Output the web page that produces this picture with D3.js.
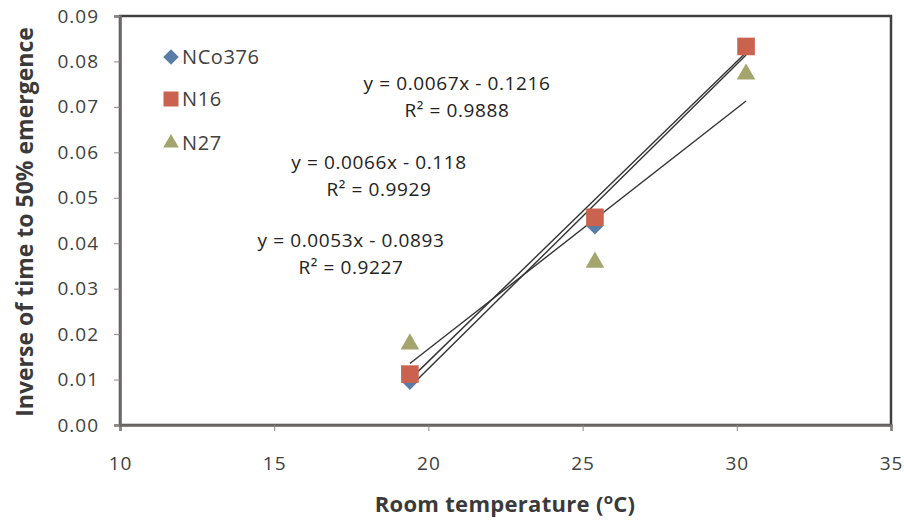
<!DOCTYPE html>
<meta charset="utf-8">
<style>
body { margin:0; background:#fff; }
text { font-family: "Open Sans", "Noto Sans", sans-serif; fill:#404040; }
.title { font-weight:bold; font-size:22px; fill:#3a3a3a; }
.eq { font-size:19px; letter-spacing:0.6px; fill:#222; }
</style>
<body>
<svg width="904" height="520" id="vis"></svg>
<script src="https://d3js.org/d3.v7.min.js"></script>
<script>
var temps = [19.4, 25.4, 30.3];
var nco376 = [0.0095, 0.0437, 0.0833];
var n16 = [0.0112, 0.0457, 0.0833];
var n27 = [0.0178, 0.0358, 0.0772];
var seriesNames = ["NCo376", "N16", "N27"];
var slopes = [0.0067, 0.0066, 0.0053];
var intercepts = [-0.1216, -0.118, -0.0893];
var eqLabels = ["y = 0.0067x - 0.1216", "y = 0.0066x - 0.118", "y = 0.0053x - 0.0893"];
var r2Labels = ["R\u00b2 = 0.9888", "R\u00b2 = 0.9929", "R\u00b2 = 0.9227"];
var xTicks = [10, 15, 20, 25, 30, 35];
var yTicks = [0, 0.01, 0.02, 0.03, 0.04, 0.05, 0.06, 0.07, 0.08, 0.09];

var colours = ["#5a7da8", "#c9634f", "#a3a56d"];
var shapes = [d3.symbolSquare, d3.symbolSquare, d3.symbolTriangle];
var rotate = [45, 0, 0];
var sizes = [130, 310, 150];
var legSizes = [120, 225, 105];
var values = [nco376, n16, n27];

var svg = d3.select("svg"),
    margin = {top: 16, right: 13, bottom: 95, left: 120},
    width = +svg.attr("width") - margin.left - margin.right,
    height = +svg.attr("height") - margin.top - margin.bottom;

var x = d3.scaleLinear().domain([10, 35]).range([0, width]),
    y = d3.scaleLinear().domain([0, 0.09]).range([height, 0]);

var g = svg.append("g")
    .attr("transform", "translate(" + margin.left + "," + margin.top + ")");

// plot border
g.append("rect")
  .attr("width", width).attr("height", height)
  .attr("fill", "none").attr("stroke", "#404040").attr("stroke-width", 2.5);

var xaxis = g.append("g")
    .attr("transform", "translate(0," + height + ")")
    .call(d3.axisBottom(x).tickValues(xTicks).tickSize(6).tickPadding(26));

var yaxis = g.append("g")
    .call(d3.axisLeft(y).tickValues(yTicks).tickFormat(d3.format(".2f")).tickSize(6).tickPadding(15));

g.selectAll(".domain").attr("stroke", "#6f6a6a").attr("stroke-width", 2.5);
g.selectAll(".tick line").attr("stroke", "#8a8585");
g.selectAll(".tick text").attr("fill", "#404040")
  .style("font-size", "19px").style("letter-spacing", "1px")
  .style("font-family", "'Open Sans', sans-serif");

// trendlines
var line = d3.line().x(function(d){return x(d[0]);}).y(function(d){return y(d[1]);});
slopes.forEach(function(m, i) {
  var ends = [temps[0], temps[temps.length-1]].map(function(t){ return [t, m*t + intercepts[i]]; });
  g.append("path").datum(ends)
    .attr("d", line)
    .attr("fill", "none")
    .attr("stroke", "#333")
    .attr("stroke-width", 1.4);
});

// points
values.forEach(function(vals, i) {
  g.selectAll(".pt" + i).data(vals).enter().append("path")
    .attr("class", "pt" + i)
    .attr("d", d3.symbol().type(shapes[i]).size(sizes[i]))
    .attr("transform", function(d, j){
      return "translate(" + x(temps[j]) + "," + y(d) + ") rotate(" + rotate[i] + ")"; })
    .attr("fill", colours[i]);
});

// legend
var legY = [57, 99, 143];
seriesNames.forEach(function(name, i) {
  var lg = svg.append("g").attr("transform", "translate(171," + legY[i] + ")");
  lg.append("path")
    .attr("d", d3.symbol().type(shapes[i]).size(legSizes[i]))
    .attr("transform", "rotate(" + rotate[i] + ")")
    .attr("fill", colours[i]);
  lg.append("text").attr("x", 11).attr("dy", "0.36em")
    .style("font-size", "20px").style("letter-spacing", "0.6px")
    .attr("fill", "#222").text(name);
});

// equations
var eqPos = [[457, 83], [379, 162], [351, 240]];
eqLabels.forEach(function(t, i) {
  svg.append("text").attr("class", "eq").attr("text-anchor", "middle")
    .attr("x", eqPos[i][0]).attr("y", eqPos[i][1]).attr("dy", "0.36em").text(t);
  svg.append("text").attr("class", "eq").attr("text-anchor", "middle")
    .attr("x", eqPos[i][0]).attr("y", eqPos[i][1] + 27).attr("dy", "0.36em").text(r2Labels[i]);
});

// axis titles
var xt = svg.append("text").attr("class", "title").attr("text-anchor", "middle")
  .attr("x", 505).attr("y", 512).style("letter-spacing", "0.3px");
xt.append("tspan").text("Room temperature (");
xt.append("tspan").attr("dy", -8).style("font-size", "15px").text("o");
xt.append("tspan").attr("dy", 8).text("C)");

svg.append("text").attr("class", "title").attr("text-anchor", "middle")
  .attr("transform", "translate(33,222) rotate(-90)")
  .style("font-size", "23px")
  .text("Inverse of time to 50% emergence");
</script>
</body>
